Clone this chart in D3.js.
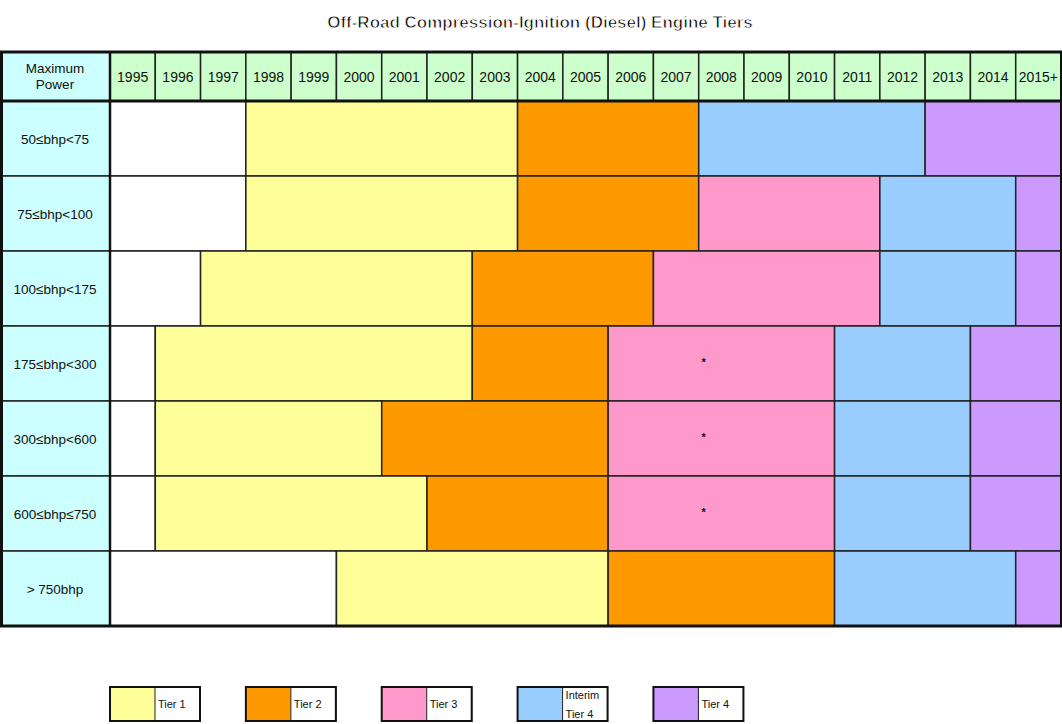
<!DOCTYPE html>
<html><head><meta charset="utf-8">
<script src="https://cdn.jsdelivr.net/npm/d3@7"></script>
<style>body{margin:0;background:#fff}svg{display:block}</style>
</head><body>
<script>
const title = "Off-Road Compression-Ignition (Diesel) Engine Tiers";
const headerLabel = ["Maximum", "Power"];
const years = ["1995","1996","1997","1998","1999","2000","2001","2002","2003","2004","2005","2006","2007","2008","2009","2010","2011","2012","2013","2014","2015+"];
const powerRanges = ["50≤bhp<75","75≤bhp<100","100≤bhp<175","175≤bhp<300","300≤bhp<600","600≤bhp≤750","> 750bhp"];
const tiers = ["Tier 1","Tier 2","Tier 3","Interim Tier 4","Tier 4"];
// first model year of each tier per power range (null = tier not applied)
const tier1Start = [1998,1998,1997,1996,1996,1996,2000];
const tier2Start = [2004,2004,2003,2003,2001,2002,2006];
const tier3Start = [null,2008,2007,2006,2006,2006,null];
const interimTier4Start = [2008,2012,2012,2011,2011,2011,2011];
const tier4Start = [2013,2015,2015,2014,2014,2014,2015];
const tier3Footnote = [false,false,false,true,true,true,false];

(function(){
const W = 1062, H = 724;
const svg = d3.select("body").append("svg").attr("width", W).attr("height", H)
  .style("font-family", "'Liberation Sans', Arial, sans-serif");

const color = d3.scaleOrdinal().domain(["none"].concat(tiers))
  .range(["#ffffff","#ffff99","#ff9900","#ff99cc","#99ccff","#cc99ff"]);

const gLeft = 0, colW = 110, gTop = 52, headH = 49, gRight = 1061, gBottom = 626;
const x = d3.scaleBand().domain(years).range([gLeft + colW, gRight]);
const y = d3.scaleBand().domain(powerRanges).range([gTop + headH, gBottom]);
const yearKey = v => v >= 2015 ? "2015+" : String(v);

// title
svg.append("text").attr("x", 540).attr("y", 28).attr("text-anchor", "middle")
  .attr("font-size", 17).attr("font-weight", "bold").attr("fill", "#000")
  .attr("stroke", "#fff").attr("stroke-width", 0.8).text(title);

// header
svg.append("rect").attr("x", gLeft).attr("y", gTop).attr("width", colW).attr("height", headH)
  .attr("fill", "#ccffff").attr("stroke", "#222").attr("stroke-width", 1.5);
svg.append("text").attr("x", gLeft + colW/2).attr("y", gTop + headH/2).attr("text-anchor", "middle")
  .attr("font-size", 13.5).attr("fill", "#111")
  .selectAll("tspan").data(headerLabel).join("tspan")
  .attr("x", gLeft + colW/2).attr("dy", (d,i) => i === 0 ? "-0.25em" : "1.2em").text(d => d);

const hdr = svg.append("g").selectAll("g").data(years).join("g");
hdr.append("rect").attr("x", d => x(d)).attr("y", gTop).attr("width", x.bandwidth()).attr("height", headH)
  .attr("fill", "#ccffcc").attr("stroke", "#222").attr("stroke-width", 1.5);
hdr.append("text").attr("x", d => x(d) + x.bandwidth()/2).attr("y", gTop + headH/2 + 5)
  .attr("text-anchor", "middle").attr("font-size", 14).attr("fill", "#111").text(d => d);

// row labels
const rl = svg.append("g").selectAll("g").data(powerRanges).join("g");
rl.append("rect").attr("x", gLeft).attr("y", d => y(d)).attr("width", colW).attr("height", y.bandwidth())
  .attr("fill", "#ccffff").attr("stroke", "#222").attr("stroke-width", 1.5);
rl.append("text").attr("x", gLeft + colW/2).attr("y", d => y(d) + y.bandwidth()/2 + 5)
  .attr("text-anchor", "middle").attr("font-size", 13.5).attr("fill", "#111").text(d => d);

// segments
const segments = [];
powerRanges.forEach((p, i) => {
  const starts = [["none", 1995], [tiers[0], tier1Start[i]], [tiers[1], tier2Start[i]],
    [tiers[2], tier3Start[i]], [tiers[3], interimTier4Start[i]], [tiers[4], tier4Start[i]]]
    .filter(s => s[1] !== null);
  starts.forEach((s, j) => {
    const end = j < starts.length - 1 ? starts[j+1][1] - 1 : 2015;
    if (end >= s[1]) segments.push({row: p, idx: i, tier: s[0], start: s[1], end: end});
  });
});
svg.append("g").selectAll("rect").data(segments).join("rect")
  .attr("x", d => x(yearKey(d.start)))
  .attr("y", d => y(d.row))
  .attr("width", d => x(yearKey(d.end)) + x.bandwidth() - x(yearKey(d.start)))
  .attr("height", y.bandwidth())
  .attr("fill", d => color(d.tier)).attr("stroke", "#222").attr("stroke-width", 1.5);

svg.append("g").selectAll("text").data(segments.filter(d => d.tier === tiers[2] && tier3Footnote[d.idx])).join("text")
  .attr("x", d => x("2008") + 5).attr("y", d => y(d.row) + y.bandwidth()/2 + 2)
  .attr("text-anchor", "middle").attr("font-size", 11).attr("font-weight", "bold").attr("fill", "#111").text("*");

// thick lines
svg.append("rect").attr("x", gLeft + 1.5).attr("y", gTop).attr("width", gRight - gLeft - 1).attr("height", gBottom - gTop)
  .attr("fill", "none").attr("stroke", "#111").attr("stroke-width", 3);
svg.append("line").attr("x1", gLeft).attr("x2", gRight + 1).attr("y1", gTop + headH).attr("y2", gTop + headH)
  .attr("stroke", "#111").attr("stroke-width", 3);
svg.append("line").attr("x1", gLeft + colW).attr("x2", gLeft + colW).attr("y1", gTop).attr("y2", gBottom)
  .attr("stroke", "#111").attr("stroke-width", 2.5);

// legend
const legendYears = ["1995","1998","2001","2004","2007"];
const lg = svg.append("g").selectAll("g").data(tiers).join("g")
  .attr("transform", (d,i) => `translate(${x(legendYears[i])},687)`);
lg.append("rect").attr("width", 45).attr("height", 34).attr("fill", d => color(d));
lg.append("rect").attr("x", 45).attr("width", 45).attr("height", 34).attr("fill", "#fff")
  .attr("stroke", "#222").attr("stroke-width", 1);
lg.append("rect").attr("width", 90).attr("height", 34).attr("fill", "none")
  .attr("stroke", "#111").attr("stroke-width", 2);
lg.append("text").attr("font-size", 11).attr("fill", "#111")
  .each(function(d) {
    const parts = d === "Interim Tier 4" ? ["Interim", "Tier 4"] : [d];
    d3.select(this).selectAll("tspan").data(parts).join("tspan")
      .attr("x", 48).attr("y", (p,i) => parts.length === 1 ? 21 : 12 + i * 19).text(p => p);
  });
})();
</script>
</body></html>
